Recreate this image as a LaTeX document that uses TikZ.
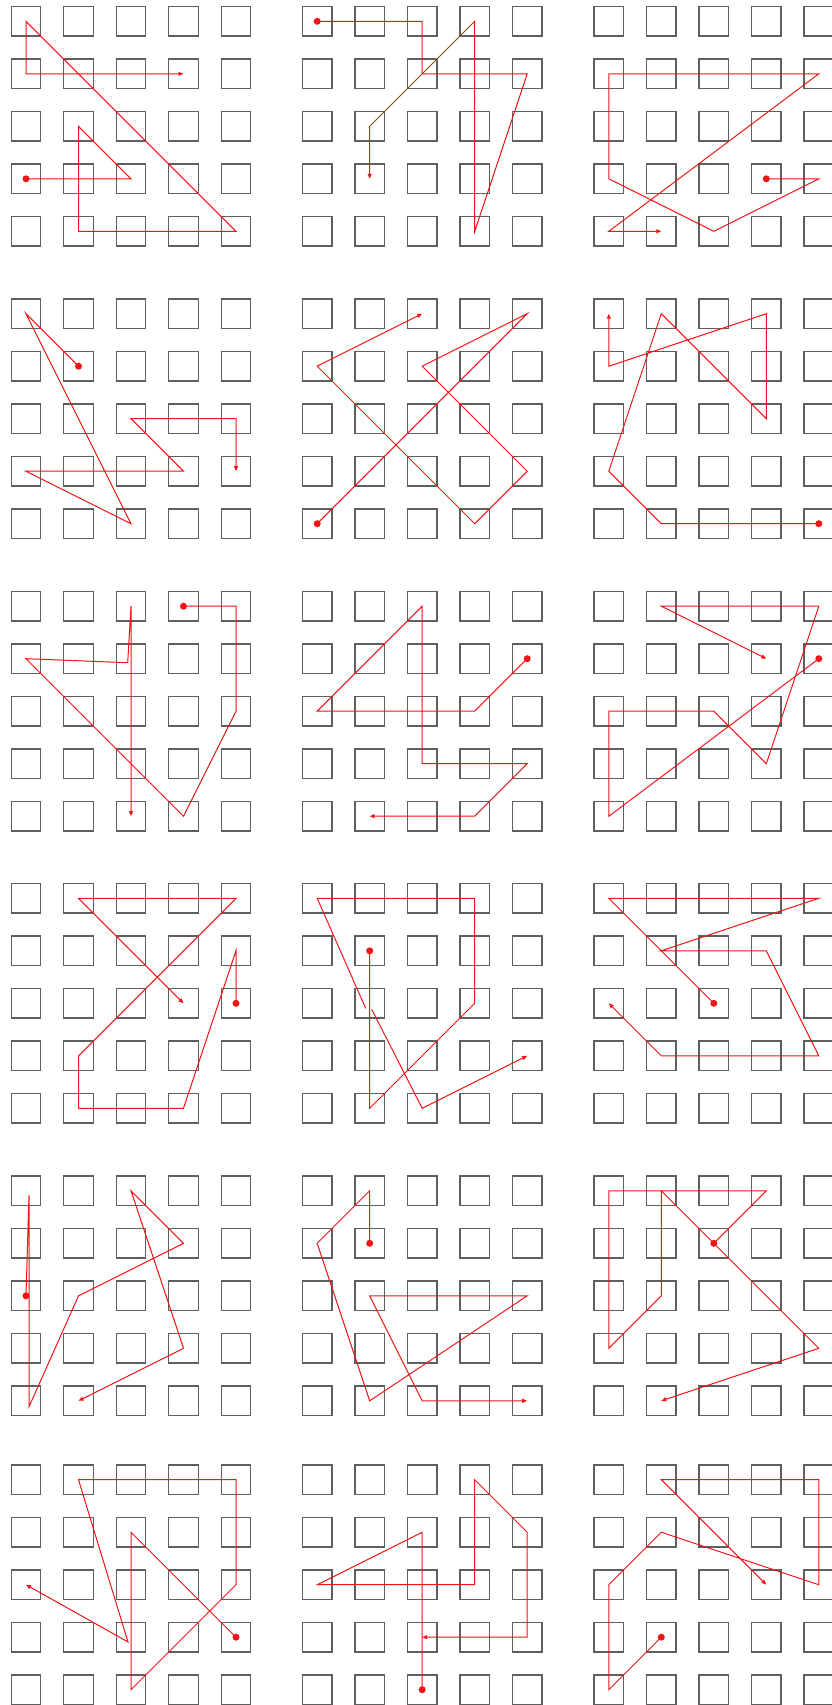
\documentclass[tikz,border=0pt]{standalone}
\usetikzlibrary{arrows.meta,calc}
\definecolor{cellgray}{RGB}{95,95,95}
\definecolor{walkred}{RGB}{240,20,20}
\begin{document}
\begin{tikzpicture}[x=1pt,y=-1pt,
  cell/.style={draw=cellgray,line width=1.2pt,minimum size=29.5pt,inner sep=0pt,outer sep=0pt},
  walkline/.style={draw=walkred,line width=1pt},
  walk/.style={walkline,-{Triangle[length=5pt,width=4pt]}},
  startdot/.style={circle,fill=walkred,minimum size=7pt,inner sep=0pt}]
\useasboundingbox (0,0) rectangle (832,1705);
\clip (0,0) rectangle (832,1705);
\foreach \q/\yy in {0/21.3,1/313.7,2/606.2,3/898.3,4/1190.8,5/1479.7}{
  \foreach \p/\xx in {0/26,1/317.2,2/608.8}{
    \foreach \c in {0,...,4}{
      \foreach \r in {0,...,4}{
        \node[cell] (s\q\p\c\r) at ({\xx+52.5*\c},{\yy+52.5*\r}) {};
        \coordinate (g\q\p\c\r) at ({\xx+52.5*\c},{\yy+52.5*\r});
      }}}}
% row 0
\draw[walk] (g0003) -- (g0023) -- (g0012) -- (g0014) -- (g0044) -- (g0000) -- (g0001) -- (g0031);
\node[startdot] (d00) at (g0003) {};
\draw[walk] (g0100) -- (g0120) -- (g0121) -- (g0141) -- (g0134) -- (g0130) -- (g0112) -- (g0113);
\node[startdot] (d01) at (g0100) {};
\draw[walk] (g0233) -- (g0243) -- (g0224) -- (g0203) -- (g0201) -- (g0241) -- (g0204) -- (g0214);
\node[startdot] (d02) at (g0233) {};
% row 1
\draw[walk] (g1011) -- (g1000) -- (g1024) -- (g1003) -- (g1033) -- (g1022) -- (g1042) -- (g1043);
\node[startdot] (d10) at (g1011) {};
\draw[walk] (g1104) -- (g1140) -- (g1121) -- (g1143) -- (g1134) -- (g1101) -- (g1120);
\node[startdot] (d11) at (g1104) {};
\draw[walk] (g1244) -- (g1214) -- (g1203) -- (g1210) -- (g1232) -- (g1230) -- (g1201) -- (g1200);
\node[startdot] (d12) at (g1244) {};
% row 2
\draw[walk] (g2030) -- (g2040) -- (g2042) -- (g2034) -- (g2001) -- ($(g2021)+(-3.3,4)$) -- (g2020) -- (g2024);
\node[startdot] (d20) at (g2030) {};
\draw[walk] (g2141) -- (g2132) -- (g2102) -- (g2120) -- (g2123) -- (g2143) -- (g2134) -- (g2114);
\node[startdot] (d21) at (g2141) {};
\draw[walk] (g2241) -- (g2204) -- (g2202) -- (g2222) -- (g2233) -- (g2240) -- (g2210) -- (g2231);
\node[startdot] (d22) at (g2241) {};
% row 3
\draw[walk] (g3042) -- (g3041) -- (g3034) -- (g3014) -- (g3013) -- (g3040) -- (g3010) -- (g3032);
\node[startdot] (d30) at (g3042) {};
\draw[walkline] (g3111) -- (g3114) -- (g3132) -- (g3130) -- (g3100) -- ($(g3112)+(-4,5)$);
\draw[walk] ($(g3112)+(2,6)$) -- (g3124) -- (g3143);
\node[startdot] (d31) at (g3111) {};
\draw[walk] (g3222) -- (g3200) -- (g3240) -- (g3211) -- (g3231) -- (g3243) -- (g3213) -- (g3202);
\node[startdot] (d32) at (g3222) {};
% row 4
\draw[walk] (g4002) -- ($(g4000)+(3,4.5)$) -- ($(g4004)+(3,6)$) -- (g4012) -- (g4031) -- (g4020) -- (g4033) -- (g4014);
\node[startdot] (d40) at (g4002) {};
\draw[walk] (g4111) -- (g4110) -- (g4101) -- (g4114) -- (g4142) -- (g4112) -- (g4124) -- (g4144);
\node[startdot] (d41) at (g4111) {};
\draw[walk] (g4221) -- (g4230) -- (g4200) -- (g4203) -- (g4212) -- (g4210) -- (g4243) -- (g4214);
\node[startdot] (d42) at (g4221) {};
% row 5
\draw[walk] (g5043) -- (g5021) -- (g5024) -- (g5042) -- (g5040) -- (g5010) -- ($(g5023)+(-3,4.7)$) -- (g5002);
\node[startdot] (d50) at (g5043) {};
\draw[walk] (g5124) -- (g5121) -- (g5102) -- (g5132) -- (g5130) -- (g5141) -- (g5143) -- (g5123);
\node[startdot] (d51) at (g5124) {};
\draw[walk] (g5213) -- (g5204) -- (g5202) -- (g5211) -- (g5242) -- (g5240) -- (g5210) -- (g5232);
\node[startdot] (d52) at (g5213) {};
\end{tikzpicture}
\end{document}
